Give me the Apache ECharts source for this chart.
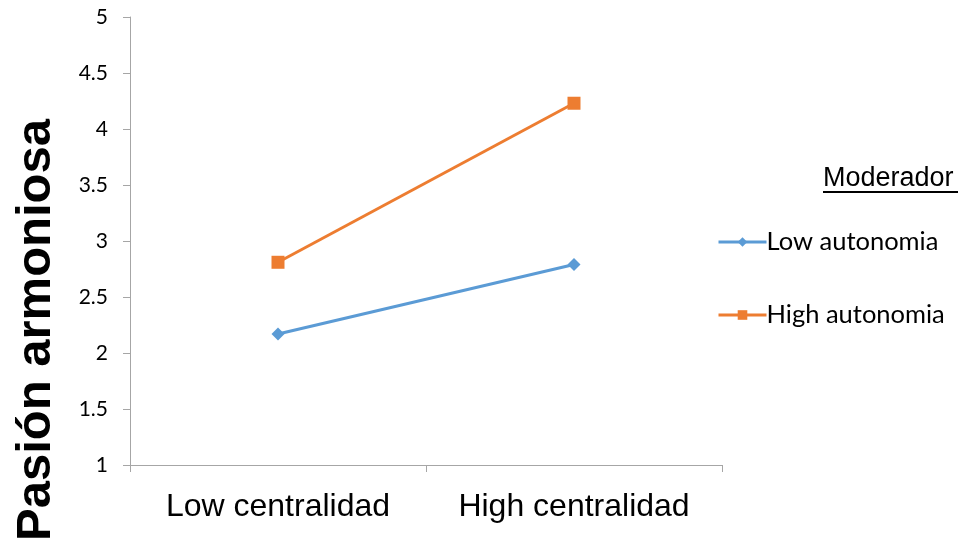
<!DOCTYPE html>
<html><head><meta charset="utf-8">
<script src="https://cdn.jsdelivr.net/npm/echarts@6/dist/echarts.min.js"></script>
<style>html,body{margin:0;padding:0;background:#fff}#c{width:976px;height:542px}</style>
</head><body><div id="c"></div>
<script>
var categories = ['Low centralidad', 'High centralidad'];
var lowAutonomia = [2.17, 2.79];
var highAutonomia = [2.81, 4.23];
var seriesNames = ['Low autonomia', 'High autonomia'];
var yTitle = 'Pasión armoniosa';
var legendTitle = 'Moderador';

var chart = echarts.init(document.getElementById('c'));
chart.setOption({
  animation: false,
  backgroundColor: '#fff',
  grid: {left: 130, right: 254, top: 17, bottom: 77},
  xAxis: {
    type: 'category', data: categories, boundaryGap: true,
    axisLine: {lineStyle: {color: '#a6a6a6', width: 1}},
    axisTick: {show: true, length: 7, lineStyle: {color: '#a6a6a6'}},
    axisLabel: {interval: 0, hideOverlap: false, fontFamily: 'Liberation Sans', fontSize: 32, color: '#000', margin: 26}
  },
  yAxis: {
    type: 'value', min: 1, max: 5, interval: 0.5,
    axisLine: {show: true, lineStyle: {color: '#a6a6a6', width: 1}},
    axisTick: {show: true, length: 7, lineStyle: {color: '#a6a6a6'}},
    splitLine: {show: false},
    axisLabel: {fontFamily: 'Lato', fontSize: 21, color: '#000', margin: 22}
  },
  legend: {
    orient: 'vertical', left: 712, top: 224, itemGap: 47,
    itemWidth: 48, itemHeight: 12,
    lineStyle: {width: 3},
    textStyle: {fontFamily: 'Lato', fontSize: 25.5, color: '#000', padding: [0,0,0,-5]},
    data: seriesNames
  },
  graphic: [
    {type: 'text', x: 36, y: 330, rotation: Math.PI / 2,
     style: {text: yTitle, fontFamily: 'Liberation Sans', fontWeight: 'bold', fontSize: 49, fill: '#000',
             textAlign: 'center', textVerticalAlign: 'middle'}},
    {type: 'text', left: 823, top: 165, style: {text: legendTitle, fontFamily: 'Liberation Sans', fontSize: 27, fill: '#000'}},
    {type: 'line', shape: {x1: 823, y1: 192, x2: 958, y2: 192}, style: {stroke: '#000', lineWidth: 2}}
  ],
  series: [
    {name: seriesNames[0], type: 'line', data: lowAutonomia, symbol: 'diamond', symbolSize: 13,
     lineStyle: {color: '#5b9bd5', width: 3}, itemStyle: {color: '#5b9bd5'}},
    {name: seriesNames[1], type: 'line', data: highAutonomia, symbol: 'rect', symbolSize: 13,
     lineStyle: {color: '#ed7d31', width: 3}, itemStyle: {color: '#ed7d31'}}
  ]
});
</script></body></html>
